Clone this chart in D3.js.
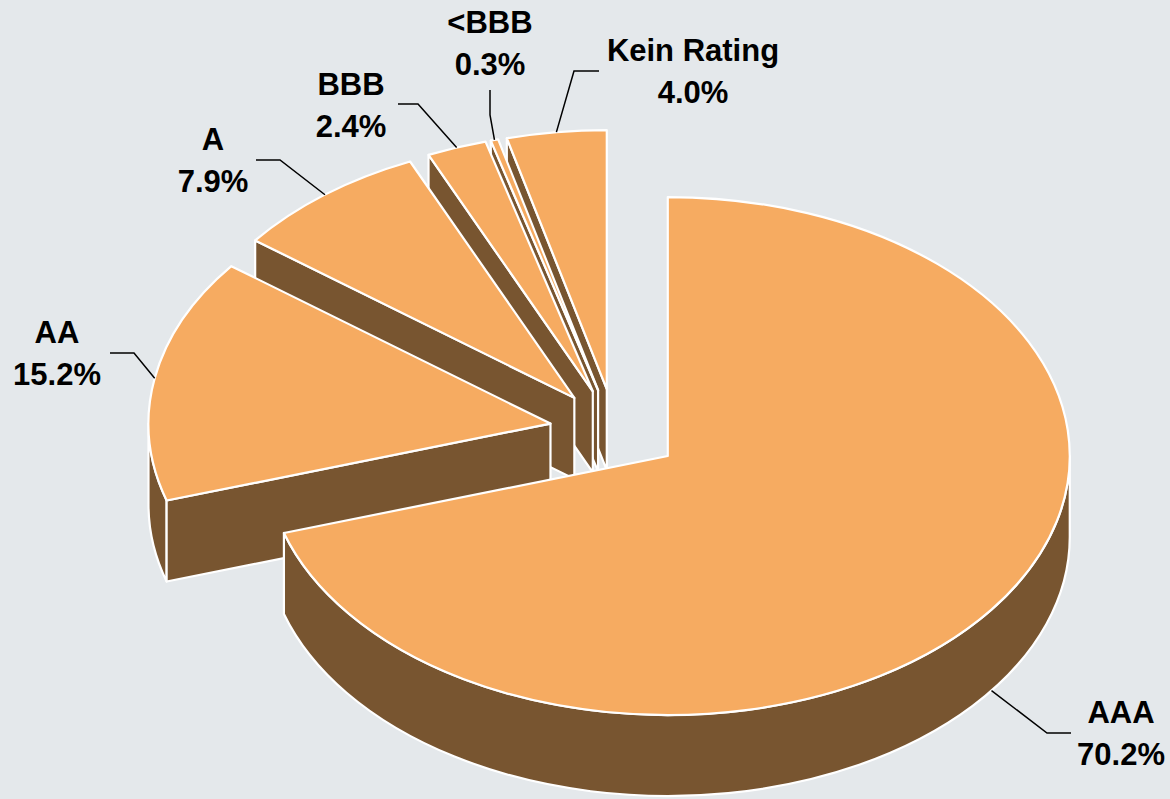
<!DOCTYPE html>
<html>
<head>
<meta charset="utf-8">
<script src="https://cdn.jsdelivr.net/npm/d3@7"></script>
<style>
  html, body { margin: 0; padding: 0; background: #E4E8EB; }
  svg { display: block; }
</style>
</head>
<body>
<script>
// ---- data ----
const categories = ["AAA", "AA", "A", "BBB", "<BBB", "Kein Rating"];
const shares = [70.2, 15.2, 7.9, 2.4, 0.3, 4.0];

// ---- layout (positions / styles) ----
const W = 1170, H = 799;
const CX = 615, CY = 431;      // pie centre (before explosion)
const RX = 402, RY = 259;      // ellipse radii of top face
const DEPTH = 81;              // thickness of the pie
const EXPLODE = 0.163;         // explosion as fraction of radius
const LINE_GAP = 42;
const labelLayout = [
  { x: 1121, y: 723, knee: [1047, 733], end: [1071, 733] },
  { x: 57,   y: 343, knee: [134, 353],  end: [110, 353] },
  { x: 213,  y: 150, knee: [280, 160],  end: [256, 160] },
  { x: 351,  y: 95,  knee: [418, 104],  end: [398, 104] },
  { x: 490,  y: 33,  knee: [490, 115],  end: [490, 90] },
  { x: 693,  y: 61,  knee: [574, 71],   end: [599, 71] }
];
const TOP_FILL = "#F6AB61";
const SIDE_FILL = "#785530";
const BG = "#E4E8EB";

const svg = d3.select("body").append("svg").attr("width", W).attr("height", H);
svg.append("rect").attr("width", W).attr("height", H).attr("fill", BG);

const arcs = d3.pie().sort(null).value(d => d).startAngle(0).endAngle(2 * Math.PI)(shares);
const fmt = d3.format(".1f");

function geom(a) {
  const mid = (a.startAngle + a.endAngle) / 2;
  const ox = CX + EXPLODE * RX * Math.sin(mid);
  const oy = CY - EXPLODE * RY * Math.cos(mid);
  const pt = (t, dz = 0) => [ox + RX * Math.sin(t), oy - RY * Math.cos(t) + dz];
  return { mid, ox, oy, pt };
}

const gPie = svg.append("g");
const faceStyle = sel => sel.attr("stroke", "#fff").attr("stroke-width", 2.2).attr("stroke-linejoin", "round");

// draw back-to-front: reverse order of slices
const order = d3.range(arcs.length).reverse();
order.forEach(i => {
  const a = arcs[i];
  const { ox, oy, pt } = geom(a);
  const a0 = a.startAngle, a1 = a.endAngle;
  const g = gPie.append("g");

  // outer curved wall (visible between 90° and 270°)
  const t0 = Math.max(a0, Math.PI / 2), t1 = Math.min(a1, 3 * Math.PI / 2);
  if (t1 > t0) {
    const p0 = pt(t0), p1 = pt(t1), q1 = pt(t1, DEPTH), q0 = pt(t0, DEPTH);
    const d = `M${p0}A${RX},${RY} 0 0 1 ${p1}L${q1}A${RX},${RY} 0 0 0 ${q0}Z`;
    g.append("path").attr("d", d).attr("fill", SIDE_FILL).call(faceStyle);
  }
  // radial walls
  const eps = 1e-6;
  if (Math.sin(a0) < -eps) {
    const e = pt(a0), eb = pt(a0, DEPTH);
    g.append("path").attr("d", `M${[ox, oy]}L${e}L${eb}L${[ox, oy + DEPTH]}Z`)
      .attr("fill", SIDE_FILL).call(faceStyle);
  }
  if (Math.sin(a1) > eps) {
    const e = pt(a1), eb = pt(a1, DEPTH);
    g.append("path").attr("d", `M${[ox, oy]}L${e}L${eb}L${[ox, oy + DEPTH]}Z`)
      .attr("fill", SIDE_FILL).call(faceStyle);
  }
  // top face
  const large = (a1 - a0) > Math.PI ? 1 : 0;
  const dTop = `M${[ox, oy]}L${pt(a0)}A${RX},${RY} 0 ${large} 1 ${pt(a1)}Z`;
  g.append("path").attr("d", dTop).attr("fill", TOP_FILL).call(faceStyle);
});

// leader lines and labels
const gLab = svg.append("g");
arcs.forEach((a, i) => {
  const { mid, pt } = geom(a);
  const front = Math.cos(mid) < 0;
  const anchor = pt(mid, front ? DEPTH : 0);
  const L = labelLayout[i];
  gLab.append("path")
    .attr("d", `M${anchor}L${L.knee}L${L.end}`)
    .attr("fill", "none").attr("stroke", "#000").attr("stroke-width", 1.5);
  const t = gLab.append("text")
    .attr("text-anchor", "middle")
    .attr("font-family", "'Liberation Sans', Arial, sans-serif")
    .attr("font-weight", "bold")
    .attr("font-size", 31)
    .attr("fill", "#000");
  t.append("tspan").attr("x", L.x).attr("y", L.y).text(categories[i]);
  t.append("tspan").attr("x", L.x).attr("y", L.y + LINE_GAP).text(fmt(shares[i]) + "%");
});
</script>
</body>
</html>
